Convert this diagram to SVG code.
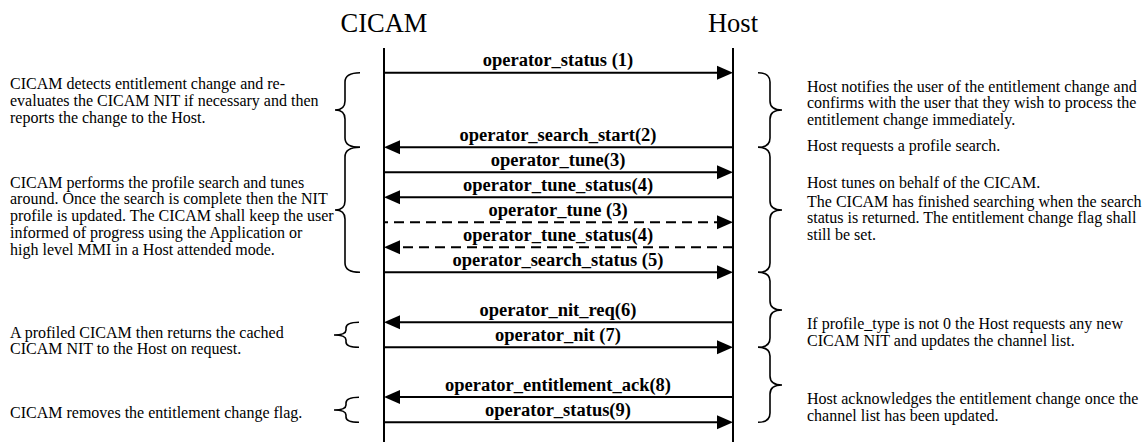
<svg xmlns="http://www.w3.org/2000/svg" width="1148" height="442" viewBox="0 0 1148 442">
<style>
.hdr{font-family:"Liberation Serif","Times New Roman",serif;font-size:26.5px;fill:#000;text-anchor:middle}
.lbl{font-family:"Liberation Serif","Times New Roman",serif;font-size:18.5px;font-weight:bold;fill:#000;text-anchor:middle}
.txt{font-family:"Liberation Serif","Times New Roman",serif;font-size:16px;fill:#000}
.life{stroke:#000;stroke-width:2;fill:none}
.msg{stroke:#000;stroke-width:2;fill:none;marker-end:url(#ah)}
.dash{stroke-dasharray:10 6}
.brace{stroke:#000;stroke-width:1.6;fill:none}
</style>
<defs>
<marker id="ah" markerUnits="userSpaceOnUse" markerWidth="16" markerHeight="14" refX="0" refY="7" orient="auto" overflow="visible">
<path d="M-8,0 L8,7 L-8,14 z" fill="#000" stroke="none"/>
</marker>
</defs>
<rect width="1148" height="442" fill="#fff"/>
<g id="cicam">
<text class="hdr" x="384" y="32">CICAM</text>
<line class="life" x1="384" y1="48" x2="384" y2="442"/>
</g>
<g id="host">
<text class="hdr" x="733" y="32">Host</text>
<line class="life" x1="733" y1="48" x2="733" y2="442"/>
</g>
<g id="connectors">
<line class="msg" x1="384" y1="72.7" x2="725" y2="72.7"/>
<text class="lbl" x="558" y="66.2">operator_status (1)</text>
<line class="msg" x1="733" y1="147.3" x2="392" y2="147.3"/>
<text class="lbl" x="558" y="140.8">operator_search_start(2)</text>
<line class="msg" x1="384" y1="172.3" x2="725" y2="172.3"/>
<text class="lbl" x="558" y="165.8">operator_tune(3)</text>
<line class="msg" x1="733" y1="197.3" x2="392" y2="197.3"/>
<text class="lbl" x="558" y="190.8">operator_tune_status(4)</text>
<line class="msg dash" x1="384" y1="222.3" x2="725" y2="222.3" stroke-dashoffset="-10"/>
<text class="lbl" x="558" y="215.8">operator_tune (3)</text>
<line class="msg dash" x1="733" y1="247.3" x2="392" y2="247.3"/>
<text class="lbl" x="558" y="240.8">operator_tune_status(4)</text>
<line class="msg" x1="384" y1="272.3" x2="725" y2="272.3"/>
<text class="lbl" x="558" y="265.8">operator_search_status (5)</text>
<line class="msg" x1="733" y1="322.3" x2="392" y2="322.3"/>
<text class="lbl" x="558" y="315.8">operator_nit_req(6)</text>
<line class="msg" x1="384" y1="347.3" x2="725" y2="347.3"/>
<text class="lbl" x="558" y="340.8">operator_nit (7)</text>
<line class="msg" x1="733" y1="397" x2="392" y2="397"/>
<text class="lbl" x="558" y="390.5">operator_entitlement_ack(8)</text>
<line class="msg" x1="384" y1="422.3" x2="725" y2="422.3"/>
<text class="lbl" x="558" y="415.8">operator_status(9)</text>
</g>
<g id="left-notes">
<path class="brace" d="M360 72.7 Q345 72.7 345 82 L345 101 Q345 110 335 110 Q345 110 345 119 L345 138 Q345 147.3 360 147.3"/>
<path class="brace" d="M360 147.3 Q345 147.3 345 157 L345 201 Q345 210 335 210 Q345 210 345 219 L345 263 Q345 272.3 360 272.3"/>
<path class="brace" d="M359 322.3 Q346 322.3 346 328 L346 330 Q346 335 334 335 Q346 335 346 340 L346 342 Q346 347.3 359 347.3"/>
<path class="brace" d="M359 397.3 Q346 397.3 346 403 L346 405 Q346 410 334 410 Q346 410 346 415 L346 417 Q346 422.3 359 422.3"/>
<text class="txt" x="10" y="89.3">CICAM detects entitlement change and re-</text>
<text class="txt" x="10" y="106">evaluates the CICAM NIT if necessary and then</text>
<text class="txt" x="10" y="122.7">reports the change to the Host.</text>
<text class="txt" x="10" y="187.7">CICAM performs the profile search and tunes</text>
<text class="txt" x="10" y="204.4">around. Once the search is complete then the NIT</text>
<text class="txt" x="10" y="221.1">profile is updated. The CICAM shall keep the user</text>
<text class="txt" x="10" y="237.8">informed of progress using the Application or</text>
<text class="txt" x="10" y="254.5">high level MMI in a Host attended mode.</text>
<text class="txt" x="10" y="337.7">A profiled CICAM then returns the cached</text>
<text class="txt" x="10" y="354.4">CICAM NIT to the Host on request.</text>
<text class="txt" x="10" y="418.3">CICAM removes the entitlement change flag.</text>
</g>
<g id="right-notes">
<path class="brace" d="M758 72.7 Q770 72.7 770 82 L770 101 Q770 110 782 110 Q770 110 770 119 L770 138 Q770 147.3 758 147.3"/>
<path class="brace" d="M758 147.3 Q770 147.3 770 157 L770 201 Q770 210 782 210 Q770 210 770 219 L770 263 Q770 272.3 758 272.3"/>
<path class="brace" d="M758 272.3 Q770 272.3 770 281 L770 301 Q770 310 782 310 Q770 310 770 319 L770 338 Q770 347.3 758 347.3"/>
<path class="brace" d="M758 347.3 Q770 347.3 770 356 L770 376 Q770 385 782 385 Q770 385 770 394 L770 413 Q770 422.3 758 422.3"/>
<text class="txt" x="807" y="91.7">Host notifies the user of the entitlement change and</text>
<text class="txt" x="807" y="108.3">confirms with the user that they wish to process the</text>
<text class="txt" x="807" y="125">entitlement change immediately.</text>
<text class="txt" x="807" y="150.7">Host requests a profile search.</text>
<text class="txt" x="807" y="188.3">Host tunes on behalf of the CICAM.</text>
<text class="txt" x="807" y="206.7">The CICAM has finished searching when the search</text>
<text class="txt" x="807" y="223.3">status is returned. The entitlement change flag shall</text>
<text class="txt" x="807" y="240">still be set.</text>
<text class="txt" x="807" y="329">If profile_type is not 0 the Host requests any new</text>
<text class="txt" x="807" y="345.7">CICAM NIT and updates the channel list.</text>
<text class="txt" x="807" y="404">Host acknowledges the entitlement change once the</text>
<text class="txt" x="807" y="420.7">channel list has been updated.</text>
</g>
</svg>
